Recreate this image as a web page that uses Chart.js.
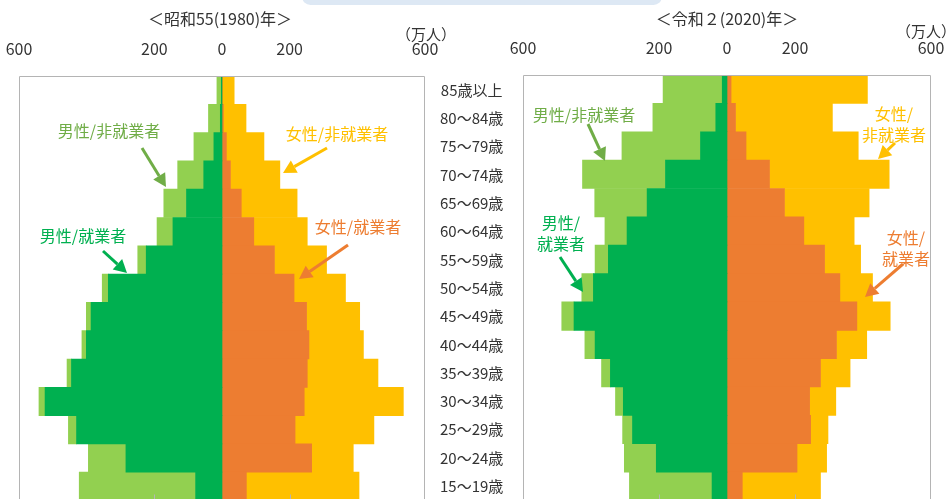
<!DOCTYPE html>
<html>
<head>
<meta charset="utf-8">
<script src="https://cdn.jsdelivr.net/npm/chart.js@4.4.1/dist/chart.umd.min.js"></script>
<style>
html, body { margin:0; padding:0; width:950px; height:499px; overflow:hidden; background:#fff; }
#tab { position:absolute; left:302px; top:-12px; width:360px; height:17px; border-radius:9px; background:#dde8f4; }
#c1 { position:absolute; left:0; top:0; }
#c2 { position:absolute; left:500px; top:0; }
</style>
</head>
<body>
<div id="tab"></div>
<canvas id="c1" width="523" height="520"></canvas>
<canvas id="c2" width="450" height="520"></canvas>
<script>
// 年齢階級（上から）
const ages = ['85歳以上','80～84歳','75～79歳','70～74歳','65～69歳','60～64歳','55～59歳',
  '50～54歳','45～49歳','40～44歳','35～39歳','30～34歳','25～29歳','20～24歳','15～19歳'];
const tickValues = [-600, -200, 0, 200, 600];

// 昭和55(1980)年　万人
const men1980Work    = [2, 5, 24, 54, 105, 145, 224, 336, 387, 401, 445, 523, 430, 284, 78];
const men1980NonWork = [13, 35, 59, 77, 67, 47, 25, 18, 14, 13, 13, 18, 24, 111, 344];
const women1980Work    = [1, 4, 13, 25, 57, 94, 155, 213, 250, 257, 252, 243, 216, 265, 72];
const women1980NonWork = [35, 67, 111, 146, 165, 158, 154, 152, 157, 161, 209, 293, 233, 123, 333];

// 令和2(2020)年　万人
const men2020Work    = [14, 33, 78, 181, 235, 294, 349, 393, 450, 388, 343, 305, 278, 208, 44];
const men2020NonWork = [174, 185, 231, 244, 154, 65, 39, 34, 36, 30, 26, 23, 29, 94, 243];
const women2020Work    = [12, 25, 56, 125, 169, 226, 287, 332, 382, 322, 275, 243, 246, 206, 45];
const women2020NonWork = [401, 285, 330, 352, 249, 148, 106, 96, 98, 89, 87, 77, 51, 87, 230];

const colors = {
  menWork: '#00b050', menNon: '#92d050',
  womenWork: '#ed7d31', womenNon: '#ffc000',
  menNonText: '#70ad47'
};

Chart.defaults.font.family = "'Noto Sans CJK JP', sans-serif";
Chart.defaults.color = '#333';

function drawArrow(ctx, x1, y1, x2, y2, color) {
  const ang = Math.atan2(y2 - y1, x2 - x1), head = 13, hw = 7;
  const bx = x2 - head * Math.cos(ang), by = y2 - head * Math.sin(ang);
  ctx.strokeStyle = color; ctx.fillStyle = color; ctx.lineWidth = 3;
  ctx.beginPath(); ctx.moveTo(x1, y1); ctx.lineTo(bx, by); ctx.stroke();
  ctx.beginPath(); ctx.moveTo(x2, y2);
  ctx.lineTo(bx + hw * Math.sin(ang), by - hw * Math.cos(ang));
  ctx.lineTo(bx - hw * Math.sin(ang), by + hw * Math.cos(ang));
  ctx.closePath(); ctx.fill();
}

// 枠・見出し・注記
const decor = {
  id: 'decor',
  afterDraw(chart, args, o) {
    const ctx = chart.ctx, a = chart.chartArea, x = chart.scales.x;
    const dx = chart.canvas.offsetLeft;
    ctx.save();
    ctx.strokeStyle = '#b4b4b4'; ctx.lineWidth = 1;
    ctx.beginPath();
    const l = Math.round(a.left) + 0.5, r = Math.round(a.right) - 0.5, t = Math.round(a.top) + 0.5;
    ctx.moveTo(l, a.bottom); ctx.lineTo(l, t); ctx.lineTo(r, t); ctx.lineTo(r, a.bottom);
    [-200, 200].forEach(v => {
      const px = Math.round(x.getPixelForValue(v)) + 0.5;
      ctx.moveTo(px, a.bottom - 6); ctx.lineTo(px, a.bottom);
    });
    ctx.stroke();

    ctx.textAlign = 'center'; ctx.textBaseline = 'middle';
    ctx.fillStyle = '#333';
    ctx.font = "16px 'Noto Sans CJK JP'";
    ctx.fillText(o.title, (a.left + a.right) / 2 + o.titleShift, 19);
    ctx.font = "15px 'Noto Sans CJK JP'";
    ctx.fillText('（万人）', o.unit[0] - dx, o.unit[1]);

    ctx.font = "16px 'Noto Sans CJK JP'";
    o.notes.forEach(n => {
      ctx.fillStyle = n.color;
      n.lines.forEach((s, i) => ctx.fillText(s, n.x - dx, n.y + i * 21));
      drawArrow(ctx, n.arrow[0] - dx, n.arrow[1], n.arrow[2] - dx, n.arrow[3], n.arrowColor || n.color);
    });
    ctx.restore();
  }
};

function makePyramid(id, menWork, menNon, womenWork, womenNon, o) {
  return new Chart(document.getElementById(id), {
    type: 'bar',
    data: {
      labels: ages,
      datasets: [
        { label: '男性/就業者', data: menWork.map(v => -v), backgroundColor: colors.menWork },
        { label: '男性/非就業者', data: menNon.map(v => -v), backgroundColor: colors.menNon },
        { label: '女性/就業者', data: womenWork, backgroundColor: colors.womenWork },
        { label: '女性/非就業者', data: womenNon, backgroundColor: colors.womenNon }
      ]
    },
    options: {
      indexAxis: 'y',
      responsive: false,
      animation: false,
      barPercentage: 1,
      categoryPercentage: 1,
      borderWidth: 0,
      layout: { padding: o.padding },
      plugins: { legend: { display: false }, tooltip: { enabled: false }, decor: o },
      scales: {
        x: {
          position: 'top', stacked: true, min: -600, max: 600,
          grid: { display: false }, border: { display: false },
          afterBuildTicks: s => { s.ticks = tickValues.map(v => ({ value: v })); },
          afterFit: s => { s.height = o.top; s.paddingLeft = 0; s.paddingRight = 0; },
          ticks: { padding: 9, maxRotation: 0, font: { size: 16 }, color: '#333',
                   callback: v => Math.abs(v) }
        },
        y: {
          position: 'right', stacked: true, display: o.showAges,
          grid: { display: false }, border: { display: false },
          afterFit: s => { s.width = o.showAges ? 98 : 0; },
          ticks: { crossAlign: 'center', padding: 7, font: { size: 15 }, color: '#333' }
        }
      }
    },
    plugins: [decor]
  });
}

makePyramid('c1', men1980Work, men1980NonWork, women1980Work, women1980NonWork, {
  padding: { left: 19, right: 0, top: 0, bottom: 19.5 },
  top: 76, showAges: true,
  title: '＜昭和55(1980)年＞', titleShift: -2, unit: [426, 34],
  notes: [
    { lines: ['男性/非就業者'], x: 109, y: 131, color: colors.menNonText, arrow: [142, 148, 166, 187] },
    { lines: ['男性/就業者'], x: 83, y: 236, color: colors.menWork, arrow: [103, 251, 127, 273] },
    { lines: ['女性/非就業者'], x: 337, y: 134, color: colors.womenNon, arrow: [327, 148, 283, 173] },
    { lines: ['女性/就業者'], x: 358, y: 227, color: colors.womenWork, arrow: [348, 245, 299, 279] }
  ]
});

makePyramid('c2', men2020Work, men2020NonWork, women2020Work, women2020NonWork, {
  padding: { left: 23, right: 19, top: 0, bottom: 19.5 },
  top: 75, showAges: false,
  title: '＜令和２(2020)年＞', titleShift: 0, unit: [926, 31],
  notes: [
    { lines: ['男性/非就業者'], x: 584, y: 115, color: colors.menNonText, arrow: [588, 124, 605, 161] },
    { lines: ['男性/', '就業者'], x: 561, y: 223, color: colors.menWork, arrow: [560, 257, 583, 292] },
    { lines: ['女性/', '非就業者'], x: 894, y: 114, color: colors.womenNon, arrow: [895, 143, 878, 159] },
    { lines: ['女性/', '就業者'], x: 906, y: 238, color: colors.womenWork, arrow: [903, 264, 865, 297] }
  ]
});
</script>
</body>
</html>
